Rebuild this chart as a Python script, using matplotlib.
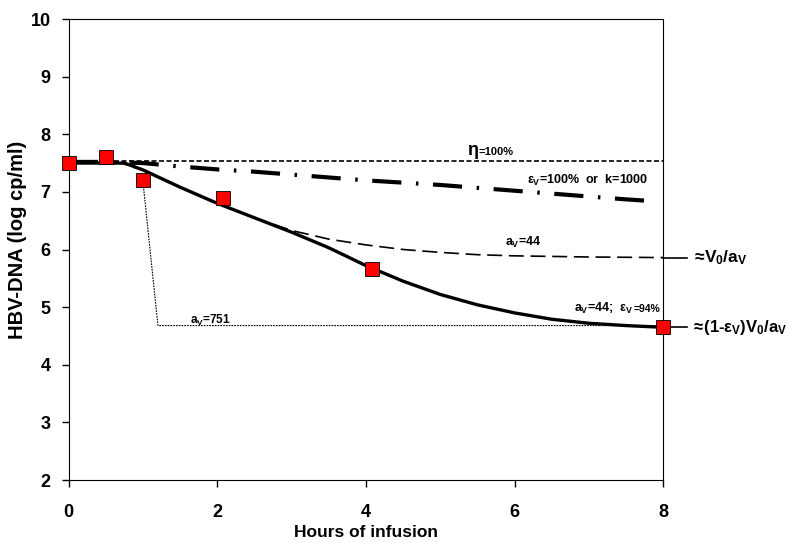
import numpy as np
import matplotlib.pyplot as plt

plt.rcParams['font.family'] = ['Liberation Sans', 'DejaVu Sans']
plt.rcParams['font.weight'] = 'bold'
plt.rcParams['mathtext.fontset'] = 'custom'
plt.rcParams['mathtext.rm'] = 'Liberation Sans:bold'
plt.rcParams['mathtext.it'] = 'Liberation Sans:bold'
plt.rcParams['mathtext.bf'] = 'Liberation Sans:bold'

# measured data (red squares)
obs_x = [0, 0.5, 1.0, 2.08, 4.08, 8.0]
obs_y = [7.5, 7.6, 7.2, 6.9, 5.67, 4.66]

# eta = 100%
eta_x = [0, 8]
eta_y = [7.53, 7.53]

# eps_v = 100% or k = 1000
eps_x = [0, 0.5, 1, 1.5, 2, 2.5, 3, 3.5, 4, 4.5, 5, 5.5, 6, 6.5, 7, 7.5, 7.85]
eps_y = [7.52, 7.52, 7.5, 7.44, 7.39, 7.35, 7.3, 7.25, 7.2, 7.16, 7.12, 7.07,
         7.02, 6.97, 6.92, 6.87, 6.84]

# a_v = 44
av44_x = [0, 0.7, 1, 1.5, 2, 2.5, 3, 3.5, 4, 4.5, 5, 5.5, 6, 7, 8]
av44_y = [7.5, 7.5, 7.38, 7.08, 6.8, 6.55, 6.33, 6.18, 6.08, 6.0, 5.95, 5.91,
          5.89, 5.87, 5.86]

# a_v = 44; eps_v = 94% (fit)
fit_x = [0, 0.5, 0.75, 1, 1.5, 2, 2.5, 3, 3.5, 4, 4.5, 5, 5.5, 6, 6.5, 7, 7.5, 8]
fit_y = [7.5, 7.5, 7.5, 7.38, 7.08, 6.8, 6.55, 6.3, 6.03, 5.72, 5.45, 5.22,
         5.04, 4.9, 4.79, 4.72, 4.68, 4.65]

# a_v = 751
av751_x = [1.0, 1.2, 8.0]
av751_y = [7.15, 4.68, 4.68]

fig = plt.figure(figsize=(8, 5.43), dpi=100)
ax = fig.add_axes([0.086, 0.116, 0.743, 0.849])

ax.plot(eta_x, eta_y, color='black', lw=1.2, linestyle=(0, (3, 1.5)))
ax.plot(eps_x, eps_y, color='black', lw=3, linestyle=(0, (7, 3.5, 0.6, 3.5)))
ax.plot(av44_x, av44_y, color='black', lw=1.2, linestyle=(0, (9, 4)))
ax.plot(av751_x, av751_y, color='black', lw=0.8, linestyle=(0, (1.5, 1)))
ax.plot(fit_x, fit_y, color='black', lw=2.4)
ax.plot(obs_x, obs_y, 's', color='red', markeredgecolor='black',
        markeredgewidth=0.6, markersize=10, clip_on=False, zorder=5)

# short leader lines to the right-hand labels
ax.plot([8, 8.32], [5.86, 5.86], color='black', lw=1.2, clip_on=False)
ax.plot([8, 8.32], [4.66, 4.66], color='black', lw=1.2, clip_on=False)

ax.set_xlim(0, 8)
ax.set_ylim(2, 10)
ax.set_xticks([0, 2, 4, 6, 8])
ax.set_yticks(range(2, 11))
ax.tick_params(direction='out', labelsize=13, length=5, width=1,
               top=False, right=False)
ax.tick_params(axis='x', pad=12)
ax.tick_params(axis='y', pad=8)
for lbl in ax.get_xticklabels() + ax.get_yticklabels():
    lbl.set_fontweight('bold')
ax.set_xlabel('Hours of infusion', fontsize=12.5, fontweight='bold', va='center')
ax.set_ylabel('HBV-DNA (log cp/ml)', fontsize=14.5, fontweight='bold', va='center')
ax.xaxis.set_label_coords(0.5, -0.113)
ax.yaxis.set_label_coords(-0.086, 0.52)

ax.text(5.52, 7.64, r'$\eta$', fontsize=13, ha='right', va='baseline')
ax.text(5.52, 7.64, '=100%', fontsize=8, ha='left', va='baseline')
ax.text(6.98, 7.13, r'$\varepsilon_V$=100%  or  k=1000', fontsize=9,
        ha='center', va='baseline')
ax.text(6.12, 6.07, r'$a_V$=44', fontsize=9, ha='center', va='baseline')
ax.text(7.6, 4.92, r'$a_V$=44;  $\varepsilon_V$', fontsize=9,
        ha='right', va='baseline')
ax.text(7.6, 4.92, '=94%', fontsize=7.5, ha='left', va='baseline')
ax.text(1.9, 4.71, r'$a_V$=751', fontsize=8.5, ha='center', va='baseline')

ax.text(8.37, 5.86, r'$\approx\!V_0/a_V$', fontsize=12.5, ha='left', va='center')
ax.text(8.37, 4.64, r'$\approx\!(1$-$\varepsilon_V)V_0/a_V$', fontsize=12,
        ha='left', va='center')

fig.savefig('out.png', dpi=100)
